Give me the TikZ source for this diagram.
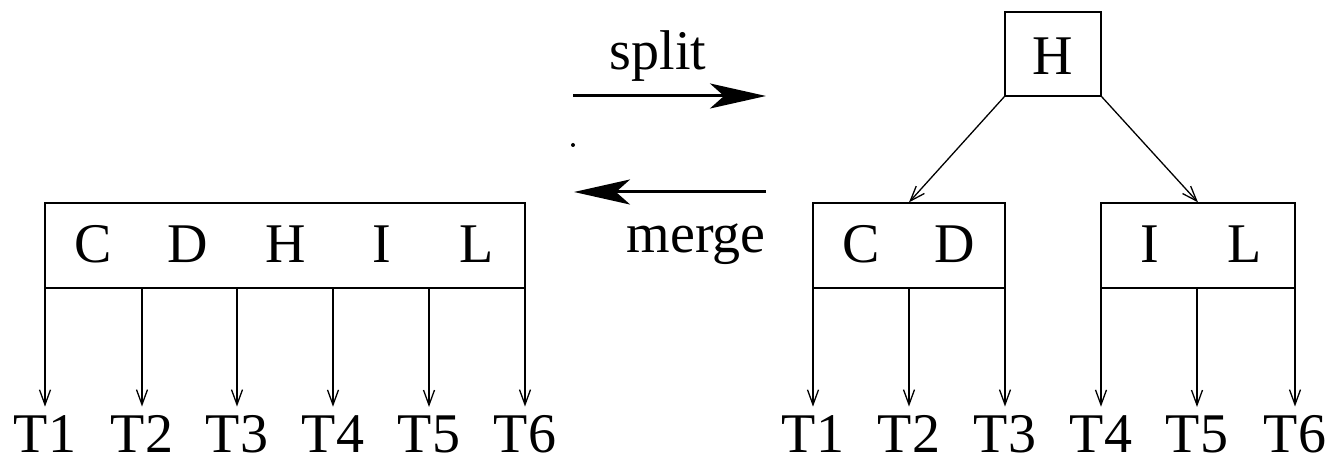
\documentclass[tikz,border=0pt]{standalone}
\usepackage{fontspec}
\setmainfont{Liberation Serif}
\usetikzlibrary{arrows.meta}
\begin{document}
\begin{tikzpicture}[x=0.5pt,y=-0.5pt,
  every node/.style={font=\fontsize{28}{30}\selectfont},
  keybox/.style={draw,line width=0.65pt,rectangle,inner sep=0pt,minimum height=42.5pt},
  letter/.style={anchor=base,inner sep=0pt},
  leaf/.style={anchor=base,inner sep=0pt},
  ptr/.style={line width=0.65pt,shorten >=4.5pt,-{Straight Barb[length=7.5pt,width=5.5pt,line width=0.65pt]}},
  big/.style={line width=1.5pt,-{Stealth[length=28pt,width=12.5pt,inset=7pt]}}]
\useasboundingbox (0,0) rectangle (1330,459);

% merged node (left)
\node[keybox,minimum width=240pt] (lb) at (285,245.5) {};
\foreach \n/\x/\t in {lc/93/C,ld/188/D,lh/286/H,li/382/I,ll/477/L}
  \node[letter] (\n) at (\x,263) {\t};
\foreach \n/\x/\t in {l1/45/T1,l2/142/T2,l3/237/T3,l4/333/T4,l5/429/T5,l6/525/T6}
  \node[leaf] (\n) at (\x,453) {\t};
\foreach \n in {l1,l2,l3,l4,l5,l6}
  \draw[ptr] (\n |- lb.south) -- (\n.north);

% split nodes (right)
\node[keybox,minimum width=48pt,minimum height=42pt] (h) at (1053,54) {};
\node[letter] (hh) at (1053,75) {H};
\node[keybox,minimum width=96pt] (cd) at (909,245.5) {};
\node[keybox,minimum width=97pt] (il) at (1198,245.5) {};
\node[letter] (rc) at (861,263) {C};
\node[letter] (rd) at (955,263) {D};
\node[letter] (ri) at (1150,263) {I};
\node[letter] (rl) at (1245,263) {L};
\draw[ptr,shorten >=0pt] (h.south west) -- (cd.north);
\draw[ptr,shorten >=0pt] (h.south east) -- (il.north);
\foreach \n/\x/\t in {r1/813/T1,r2/909/T2,r3/1005/T3}
  \node[leaf] (\n) at (\x,453) {\t};
\foreach \n/\x/\t in {r4/1101/T4,r5/1197/T5,r6/1295/T6}
  \node[leaf] (\n) at (\x,453) {\t};
\foreach \n in {r1,r2,r3}
  \draw[ptr] (\n |- cd.south) -- (\n.north);
\foreach \n in {r4,r5,r6}
  \draw[ptr] (\n |- il.south) -- (\n.north);

% transformation arrows
\coordinate (sa) at (573,96);
\coordinate (sb) at (766,96);
\coordinate (ma) at (766,192);
\coordinate (mb) at (574,192);
\draw[big] (sa) -- (sb);
\draw[big] (ma) -- (mb);
\node[letter] (split) at (658,70) {split};
\node[anchor=base east,inner sep=0pt] (merge) at (766,253) {merge};
\fill (573,145) circle (1pt);
\end{tikzpicture}
\end{document}
